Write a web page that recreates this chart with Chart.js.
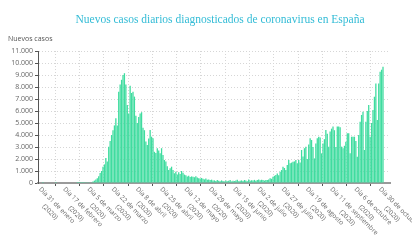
<!DOCTYPE html>
<html><head><meta charset="utf-8">
<script src="https://cdn.jsdelivr.net/npm/chart.js@4"></script>
<style>html,body{margin:0;padding:0;background:#fff}#wrap{width:412px;height:244px}</style>
</head><body><div id="wrap"><canvas id="c" width="412" height="244"></canvas></div>
<script>
const chartTitle = 'Nuevos casos diarios diagnosticados de coronavirus en España';
const yAxisTitle = 'Nuevos casos';
const tickEvery = 17;
const tickLabels = [
  ['Día 31 de enero', '(2020)'],
  ['Día 17 de febrero', '(2020)'],
  ['Día 5 de marzo', '(2020)'],
  ['Día 22 de marzo', '(2020)'],
  ['Día 8 de abril', '(2020)'],
  ['Día 25 de abril', '(2020)'],
  ['Día 12 de mayo', '(2020)'],
  ['Día 29 de mayo', '(2020)'],
  ['Día 15 de junio', '(2020)'],
  ['Día 2 de julio', '(2020)'],
  ['Día 27 de julio', '(2020)'],
  ['Día 19 de agosto', '(2020)'],
  ['Día 11 de septiembre', '(2020)'],
  ['Día 6 de octubre', '(2020)'],
  ['Día 30 de octubre', '(2020)']
];
const newCases = [
  1,0,0,0,0,0,0,0,0,1,
  0,0,0,0,0,0,0,0,0,0,
  0,0,0,0,2,4,3,10,10,13,
  13,24,31,37,
  60,130,200,300,400,560,830,1000,1360,1550,2080,
  1800,3030,3500,4000,4400,4800,5400,4800,7600,8200,
  8600,9000,9150,8200,6500,5800,8100,7500,7600,7200,
  5600,5000,5500,5800,5900,4600,4400,3450,3170,3700,
  4420,3860,3720,2600,2500,2900,2700,2470,2900,2330,
  1920,1800,1400,1080,1220,1360,1080,810,940,700,
  900,750,1000,850,700,650,550,600,500,550,
  520,480,560,450,400,380,420,350,300,380,
  280,300,250,280,200,220,170,250,180,150,
  220,170,130,200,150,180,250,130,190,160,
  210,280,150,180,220,170,250,200,140,300,
  180,230,200,260,180,250,300,220,270,240,
  200,250,260,300,390,350,530,600,670,800,
  650,940,1080,1360,1250,1080,1500,1920,1640,1700,
  1780,1800,1920,1640,1920,1700,2750,2200,2900,3030,
  2000,3200,3720,3580,3000,2050,3300,3720,3860,3800,
  2470,3300,3650,4420,4100,3030,4300,4530,4700,4400,
  3000,4700,4700,4650,3030,2900,3100,3440,4140,4140,
  2470,3860,3860,3860,3500,2190,4000,5110,5670,5940,
  2750,5110,6000,6500,3860,5000,6080,7190,8300,5250,
  8300,9280,9440,9690
];
const yMax = 11000;
const yStep = 1000;

function fmt(v) { return String(v).replace(/\B(?=(\d{3})+(?!\d))/g, '.'); }

const textPlugin = {
  id: 'texts',
  afterDraw(chart) {
    const { ctx, scales: { x } } = chart;
    ctx.save();
    ctx.font = '6.5px "Open Sans"';
    ctx.fillStyle = '#666';
    ctx.textBaseline = 'top';
    ctx.textAlign = 'center';
    tickLabels.forEach((lines, k) => {
      const px = x.getPixelForValue(k * tickEvery);
      const w = ctx.measureText(lines[0]).width;
      ctx.save();
      ctx.translate(px - 1, x.top + 3);
      ctx.rotate(Math.PI / 4);
      lines.forEach((t, j) => ctx.fillText(t, w / 2, j * 9.5));
      ctx.restore();
    });
    let size = 15;
    ctx.font = size + 'px "Liberation Serif"';
    while (ctx.measureText(chartTitle).width > 290 && size > 6) {
      size -= 0.25;
      ctx.font = size + 'px "Liberation Serif"';
    }
    ctx.fillStyle = '#33bcd6';
    ctx.textAlign = 'center';
    ctx.textBaseline = 'middle';
    ctx.fillText(chartTitle, 220, 20);
    ctx.font = '7px "Open Sans"';
    ctx.fillStyle = '#555';
    ctx.textAlign = 'left';
    ctx.fillText(yAxisTitle, 8, 39);
    ctx.restore();
  }
};

new Chart(document.getElementById('c'), {
  type: 'bar',
  data: {
    datasets: [{
      data: newCases.map((v, i) => ({ x: i, y: v })),
      backgroundColor: '#3fdc9f',
      borderWidth: 0,
      barPercentage: 0.9,
      categoryPercentage: 1
    }]
  },
  options: {
    responsive: false,
    animation: false,
    devicePixelRatio: 1,
    layout: { padding: { top: 51, right: 22, bottom: 0, left: 0 } },
    plugins: { legend: { display: false }, tooltip: { enabled: false }, title: { display: false } },
    scales: {
      x: {
        type: 'linear', min: -3.5, max: 242.9, offset: false,
        afterBuildTicks: s => { s.ticks = tickLabels.map((_, k) => ({ value: k * tickEvery })); },
        afterFit: s => { s.height = 61; },
        ticks: { display: false },
        grid: { color: '#d6d6d6', tickColor: '#555', tickLength: 3 },
        border: { display: true, color: '#9a9a9a', width: 2, dash: [1, 2] }
      },
      y: {
        min: 0, max: yMax,
        afterFit: s => { s.width = 38; },
        ticks: { stepSize: yStep, padding: 2, color: '#666', font: { family: 'Open Sans', size: 7 }, callback: v => fmt(v) },
        grid: { color: '#d6d6d6', tickColor: '#555', tickLength: 3 },
        border: { display: true, color: '#555', width: 1, dash: [1, 2] }
      }
    }
  },
  plugins: [textPlugin]
});
</script>
</body></html>
